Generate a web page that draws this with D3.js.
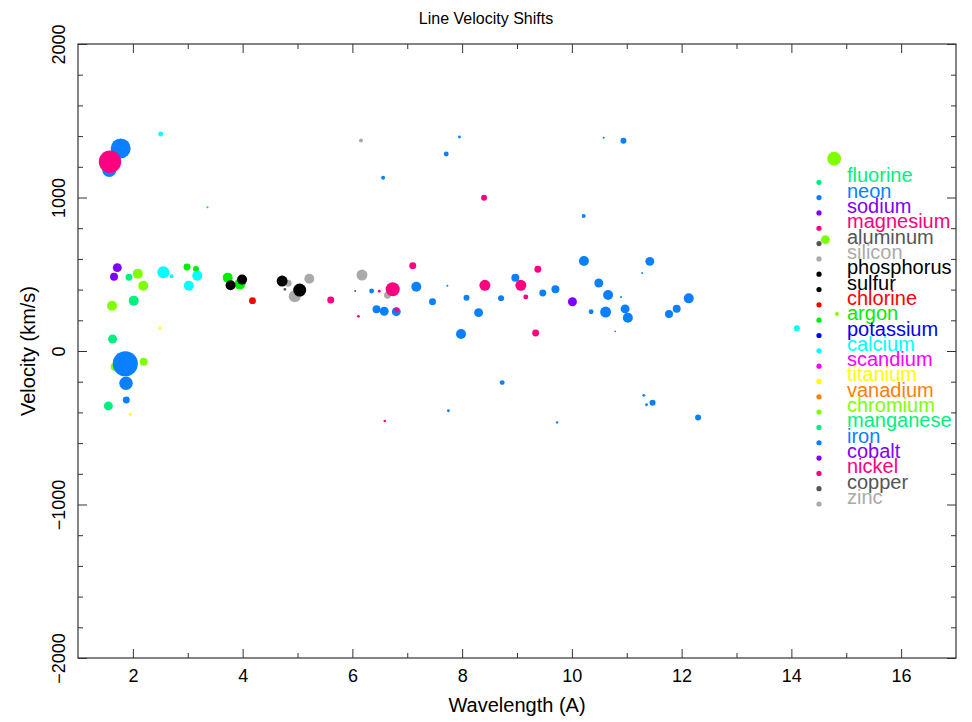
<!DOCTYPE html>
<html>
<head>
<meta charset="utf-8">
<script src="https://cdn.jsdelivr.net/npm/d3@7"></script>
<style>
  html, body { margin: 0; padding: 0; background: #fff; }
  svg { display: block; font-family: "Liberation Sans", Arial, Helvetica, sans-serif; }
</style>
</head>
<body>
<svg id="chart" width="972" height="722"></svg>
<script>
// Element names, in legend order, and their plotting colours
const elements = ["fluorine", "neon", "sodium", "magnesium", "aluminum", "silicon",
  "phosphorus", "sulfur", "chlorine", "argon", "potassium", "calcium", "scandium",
  "titanium", "vanadium", "chromium", "manganese", "iron", "cobalt", "nickel",
  "copper", "zinc"];
const elementColors = ["#00F080", "#0A80FF", "#8000FF", "#FF0080", "#555555", "#AAAAAA",
  "#000000", "#000000", "#FF0000", "#00EE00", "#0000FF", "#00FFFF", "#FF00FF",
  "#FFFF00", "#FF8000", "#80FF00", "#00F080", "#0A80FF", "#8000FF", "#FF0080",
  "#555555", "#AAAAAA"];

// Measured lines: element, wavelength (A), velocity shift (km/s), relative line flux
const lineElement = [
  "iron", "iron", "nickel", "calcium", "argon", "cobalt", "cobalt", "manganese",
  "chromium", "chromium", "calcium", "calcium", "argon", "argon", "calcium", "calcium",
  "argon", "argon", "sulfur", "sulfur", "chlorine", "chromium", "manganese", "manganese",
  "titanium", "chromium", "chromium", "iron", "iron", "iron", "manganese", "titanium",
  "silicon", "aluminum", "silicon", "sulfur", "sulfur", "silicon", "magnesium", "silicon",
  "aluminum", "iron", "silicon", "iron", "iron", "iron", "magnesium", "magnesium",
  "magnesium", "magnesium", "magnesium", "iron", "iron", "iron", "iron", "iron",
  "iron", "iron", "iron", "iron", "iron", "magnesium", "magnesium", "magnesium",
  "magnesium", "magnesium", "sodium", "neon", "iron", "iron", "iron", "iron",
  "iron", "iron", "iron", "iron", "iron", "iron", "neon", "iron",
  "iron", "silicon", "iron", "iron", "iron", "magnesium", "iron", "iron",
  "iron", "magnesium", "iron", "iron", "iron", "iron", "iron", "iron",
  "iron", "chromium", "chromium", "chromium", "calcium"];
const lineWavelength = [
  1.57, 1.778, 1.583, 2.507, 3.36, 1.716, 1.656, 1.93,
  2.09, 2.19, 2.555, 2.707, 2.986, 3.15, 3.174, 3.02,
  3.728, 3.95, 3.99, 3.78, 4.18, 1.62, 2.015, 1.63,
  2.494, 1.67, 2.197, 1.862, 1.875, 1.88, 1.553, 1.953,
  4.83, 4.77, 4.95, 4.72, 5.04, 5.215, 5.605, 6.175,
  6.05, 6.35, 6.64, 6.44, 6.58, 6.8, 6.49, 6.735,
  6.81, 6.11, 7.1, 7.165, 7.73, 7.46, 7.98, 8.08,
  8.30, 8.71, 8.97, 9.47, 9.70, 8.415, 9.07, 9.38,
  9.16, 9.34, 10.01, 10.22, 10.49, 10.66, 10.895, 10.35,
  10.615, 10.97, 11.02, 10.79, 11.42, 11.28, 12.13, 11.91,
  11.77, 6.157, 7.95, 7.71, 6.56, 8.40, 10.58, 10.94,
  10.215, 6.59, 7.75, 8.73, 9.73, 11.31, 11.36, 11.47,
  12.30, 14.78, 14.62, 14.83, 14.10];
const lineVelocity = [
  1179, 1320, 1233, 1414, 936, 543, 484, 480,
  504, 425, 513, 487, 547, 534, 491, 425,
  478, 436, 465, 428, 328, 295, 328, 78,
  148, -102, -70, -83, -210, -319, -358, -413,
  441, 402, 356, 456, 397, 471, 332, 495,
  391, 391, 363, 272, 259, 256, 389, 402,
  267, 226, 556, 419, 425, 321, 111, 347,
  250, 343, 478, 378, 402, 428, 428, 532,
  352, 117, 321, 586, 443, 365, 352, 256,
  254, 274, 217, 128, 584, 508, 343, 276,
  241, 1372, 1394, 1283, 1129, 999, 1390, 1370,
  879, -456, -389, -206, -465, -289, -350, -337,
  -434, 1253, 725, 241, 148];
const lineFlux = [
  49, 100, 125, 6, 1, 20, 16, 12,
  25, 25, 36, 4, 12, 9, 25, 25,
  25, 30, 25, 25, 12, 25, 25, 20,
  2, 16, 16, 158, 45, 12, 20, 2,
  12, 2, 36, 30, 42, 25, 12, 30,
  1, 6, 12, 16, 20, 20, 2, 49,
  6, 2, 12, 25, 1, 12, 25, 9,
  20, 9, 16, 12, 16, 30, 30, 12,
  6, 12, 20, 25, 20, 25, 1, 6,
  30, 20, 25, 0.7, 20, 1, 25, 16,
  16, 4, 2, 6, 4, 9, 1, 9,
  4, 1.5, 2, 6, 1.5, 2, 2, 9,
  9, 49, 20, 4, 9];

const xTickValues = [2, 4, 6, 8, 10, 12, 14, 16];
const xMinorValues = [3, 5, 7, 9, 11, 13, 15];
const yTickValues = [-2000, -1000, 0, 1000, 2000];
const yMinorValues = [-1800, -1600, -1400, -1200, -800, -600, -400, -200,
  200, 400, 600, 800, 1200, 1400, 1600, 1800];

const svg = d3.select("#chart");
const W = 972, H = 722;
const plot = { left: 78, right: 956, top: 44, bottom: 658 };

const x = d3.scaleLinear().domain([1, 17]).range([plot.left, plot.right]);
const y = d3.scaleLinear().domain([-2000, 2000]).range([plot.bottom, plot.top]);
const r = d3.scaleSqrt().domain([0, 160]).range([0, Math.sqrt(160)]);
const color = d3.scaleOrdinal().domain(elements).range(elementColors);

svg.append("rect").attr("width", W).attr("height", H).attr("fill", "#fff");

// Data points
const lines = lineElement.map((el, i) => ({
  el, wl: lineWavelength[i], v: lineVelocity[i], f: lineFlux[i]
}));
svg.append("g").selectAll("circle").data(lines).join("circle")
  .attr("cx", d => x(d.wl))
  .attr("cy", d => y(d.v))
  .attr("r", d => r(d.f))
  .attr("fill", d => color(d.el));

// Frame with inward ticks on all four sides
const axisColor = "#333";
function styleAxis(g) {
  g.select(".domain").remove();
  g.selectAll(".tick line").attr("stroke", axisColor).attr("stroke-width", 1);
}
const major = 9, minor = 5;

svg.append("g").attr("transform", `translate(0,${plot.bottom})`)
  .call(d3.axisBottom(x).tickValues(xTickValues).tickSize(-major).tickPadding(11).tickFormat(d3.format("d")))
  .call(styleAxis)
  .call(g => g.selectAll("text").attr("font-size", 18).attr("fill", "#000")
    .attr("font-family", "Liberation Sans, Arial, sans-serif"));
svg.append("g").attr("transform", `translate(0,${plot.bottom})`)
  .call(d3.axisBottom(x).tickValues(xMinorValues).tickSize(-minor).tickFormat(""))
  .call(styleAxis);
svg.append("g").attr("transform", `translate(0,${plot.top})`)
  .call(d3.axisTop(x).tickValues(xTickValues).tickSize(-major).tickFormat(""))
  .call(styleAxis);
svg.append("g").attr("transform", `translate(0,${plot.top})`)
  .call(d3.axisTop(x).tickValues(xMinorValues).tickSize(-minor).tickFormat(""))
  .call(styleAxis);

const yFmt = d => (d < 0 ? "\u2212" + Math.abs(d) : String(d));
svg.append("g").attr("transform", `translate(${plot.left},0)`)
  .call(d3.axisLeft(y).tickValues(yTickValues).tickSize(-major).tickFormat(yFmt))
  .call(styleAxis)
  .call(g => g.selectAll("text")
    .attr("x", null).attr("dy", null)
    .attr("text-anchor", "middle")
    .attr("transform", "translate(-13,0) rotate(-90)")
    .attr("font-size", 18).attr("fill", "#000")
    .attr("font-family", "Liberation Sans, Arial, sans-serif"));
svg.append("g").attr("transform", `translate(${plot.left},0)`)
  .call(d3.axisLeft(y).tickValues(yMinorValues).tickSize(-minor).tickFormat(""))
  .call(styleAxis);
svg.append("g").attr("transform", `translate(${plot.right},0)`)
  .call(d3.axisRight(y).tickValues(yTickValues).tickSize(-major).tickFormat(""))
  .call(styleAxis);
svg.append("g").attr("transform", `translate(${plot.right},0)`)
  .call(d3.axisRight(y).tickValues(yMinorValues).tickSize(-minor).tickFormat(""))
  .call(styleAxis);

svg.append("rect")
  .attr("x", plot.left).attr("y", plot.top)
  .attr("width", plot.right - plot.left).attr("height", plot.bottom - plot.top)
  .attr("fill", "none").attr("stroke", axisColor).attr("stroke-width", 1.2);

// Titles
svg.append("text").attr("x", W / 2).attr("y", 24).attr("text-anchor", "middle")
  .attr("font-size", 16).attr("fill", "#000").text("Line Velocity Shifts");
svg.append("text").attr("x", (plot.left + plot.right) / 2).attr("y", 712)
  .attr("text-anchor", "middle").attr("font-size", 20).attr("fill", "#000")
  .text("Wavelength (A)");
svg.append("text").attr("transform", `translate(35,${y(0)}) rotate(-90)`)
  .attr("text-anchor", "middle").attr("font-size", 20).attr("fill", "#000")
  .text("Velocity (km/s)");

// Legend: rows are tightly packed, so neighbouring names touch
const legendTop = 182.3, legendStep = 15.32;
const leg = svg.append("g");
elements.forEach((el, i) => {
  const ly = legendTop + i * legendStep;
  leg.append("circle").attr("cx", 819).attr("cy", ly).attr("r", 2.6).attr("fill", color(el));
  leg.append("text").attr("x", 847).attr("y", ly).attr("font-size", 20)
    .attr("fill", color(el)).text(el);
});
</script>
</body>
</html>
